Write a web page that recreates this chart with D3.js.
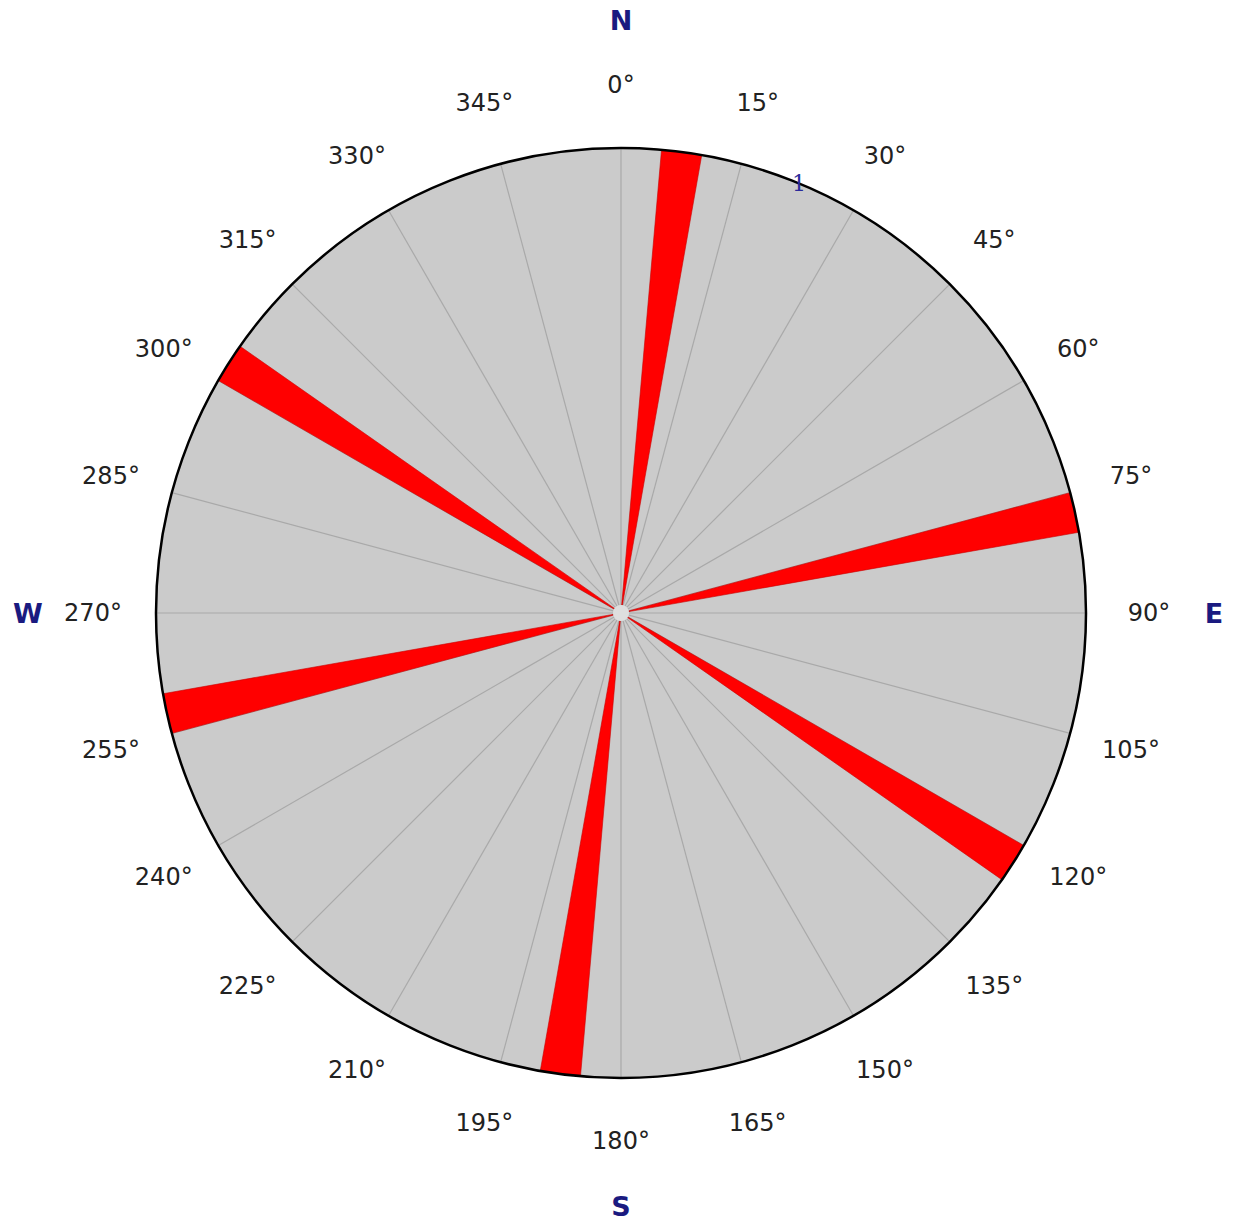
<!DOCTYPE html>
<html>
<head>
<meta charset="utf-8">
<script src="https://cdn.jsdelivr.net/npm/d3@7"></script>
<style>
  html, body { margin: 0; padding: 0; background: #ffffff; }
  svg { display: block; }
</style>
</head>
<body>
<svg id="rose" width="1236" height="1224"></svg>
<script>
// Rose diagram: 5° direction bins, frequency per bin
const binWidth = 5;
const binStarts = [5, 75, 120, 185, 255, 300];
const frequencies = [1, 1, 1, 1, 1, 1];
const radialTicks = [1];
const angleTicks = [0, 15, 30, 45, 60, 75, 90, 105, 120, 135, 150, 165,
                    180, 195, 210, 225, 240, 255, 270, 285, 300, 315, 330, 345];
const cardinalLabels = ["N", "E", "S", "W"];
const cardinalAngles = [0, 90, 180, 270];

const svg = d3.select("#rose");
const cx = 621, cy = 613;
const outerR = 465, innerR = 8;

const g = svg.append("g").attr("transform", `translate(${cx},${cy})`);

const rad = d => d * Math.PI / 180;
const r = d3.scaleLinear().domain([0, 1]).range([innerR, outerR]);

// background disc
g.append("circle").attr("r", outerR).attr("fill", "#cbcbcb");

// radial grid lines every 15°
g.selectAll("line.grid").data(angleTicks).join("line")
  .attr("class", "grid")
  .attr("x1", d => innerR * Math.sin(rad(d)))
  .attr("y1", d => -innerR * Math.cos(rad(d)))
  .attr("x2", d => outerR * Math.sin(rad(d)))
  .attr("y2", d => -outerR * Math.cos(rad(d)))
  .attr("stroke", "#a9a9a9")
  .attr("stroke-width", 1.2);

// petals
const arc = d3.arc();
g.selectAll("path.petal").data(binStarts.map((b, i) => ({ start: b, value: frequencies[i] })))
  .join("path")
  .attr("class", "petal")
  .attr("d", d => arc({
    innerRadius: r(0),
    outerRadius: r(d.value),
    startAngle: rad(d.start),
    endAngle: rad(d.start + binWidth)
  }))
  .attr("fill", "#ff0000")
  .attr("stroke", "#c80000")
  .attr("stroke-width", 0.6);

// centre hole
g.append("circle").attr("r", innerR).attr("fill", "#dedede");

// outer frame
g.append("circle").attr("r", outerR).attr("fill", "none")
  .attr("stroke", "#000000").attr("stroke-width", 2.5);

// radial tick label, sitting on its ring at 22.5°
g.selectAll("text.rtick").data(radialTicks).join("text")
  .attr("class", "rtick")
  .attr("x", d => r(d) * Math.sin(rad(22.5)))
  .attr("y", d => -r(d) * Math.cos(rad(22.5)))
  .attr("text-anchor", "middle")
  .attr("dominant-baseline", "central")
  .attr("font-family", "DejaVu Serif, serif")
  .attr("font-size", 22)
  .attr("fill", "#2a2a9a")
  .text(d => d);

// angle labels
const labelR = 528;
g.selectAll("text.angle").data(angleTicks).join("text")
  .attr("class", "angle")
  .attr("x", d => labelR * Math.sin(rad(d)))
  .attr("y", d => -labelR * Math.cos(rad(d)))
  .attr("text-anchor", "middle")
  .attr("dominant-baseline", "central")
  .attr("font-family", "DejaVu Sans, Verdana, sans-serif")
  .attr("font-size", 24)
  .attr("fill", "#222222")
  .text(d => d + "°");

// cardinal points
const cardR = 593;
g.selectAll("text.cardinal").data(cardinalLabels).join("text")
  .attr("class", "cardinal")
  .attr("x", (d, i) => cardR * Math.sin(rad(cardinalAngles[i])))
  .attr("y", (d, i) => -cardR * Math.cos(rad(cardinalAngles[i])))
  .attr("text-anchor", "middle")
  .attr("dominant-baseline", "central")
  .attr("font-family", "DejaVu Sans, Verdana, sans-serif")
  .attr("font-weight", "bold")
  .attr("font-size", 27)
  .attr("fill", "#1a1a80")
  .text(d => d);
</script>
</body>
</html>
